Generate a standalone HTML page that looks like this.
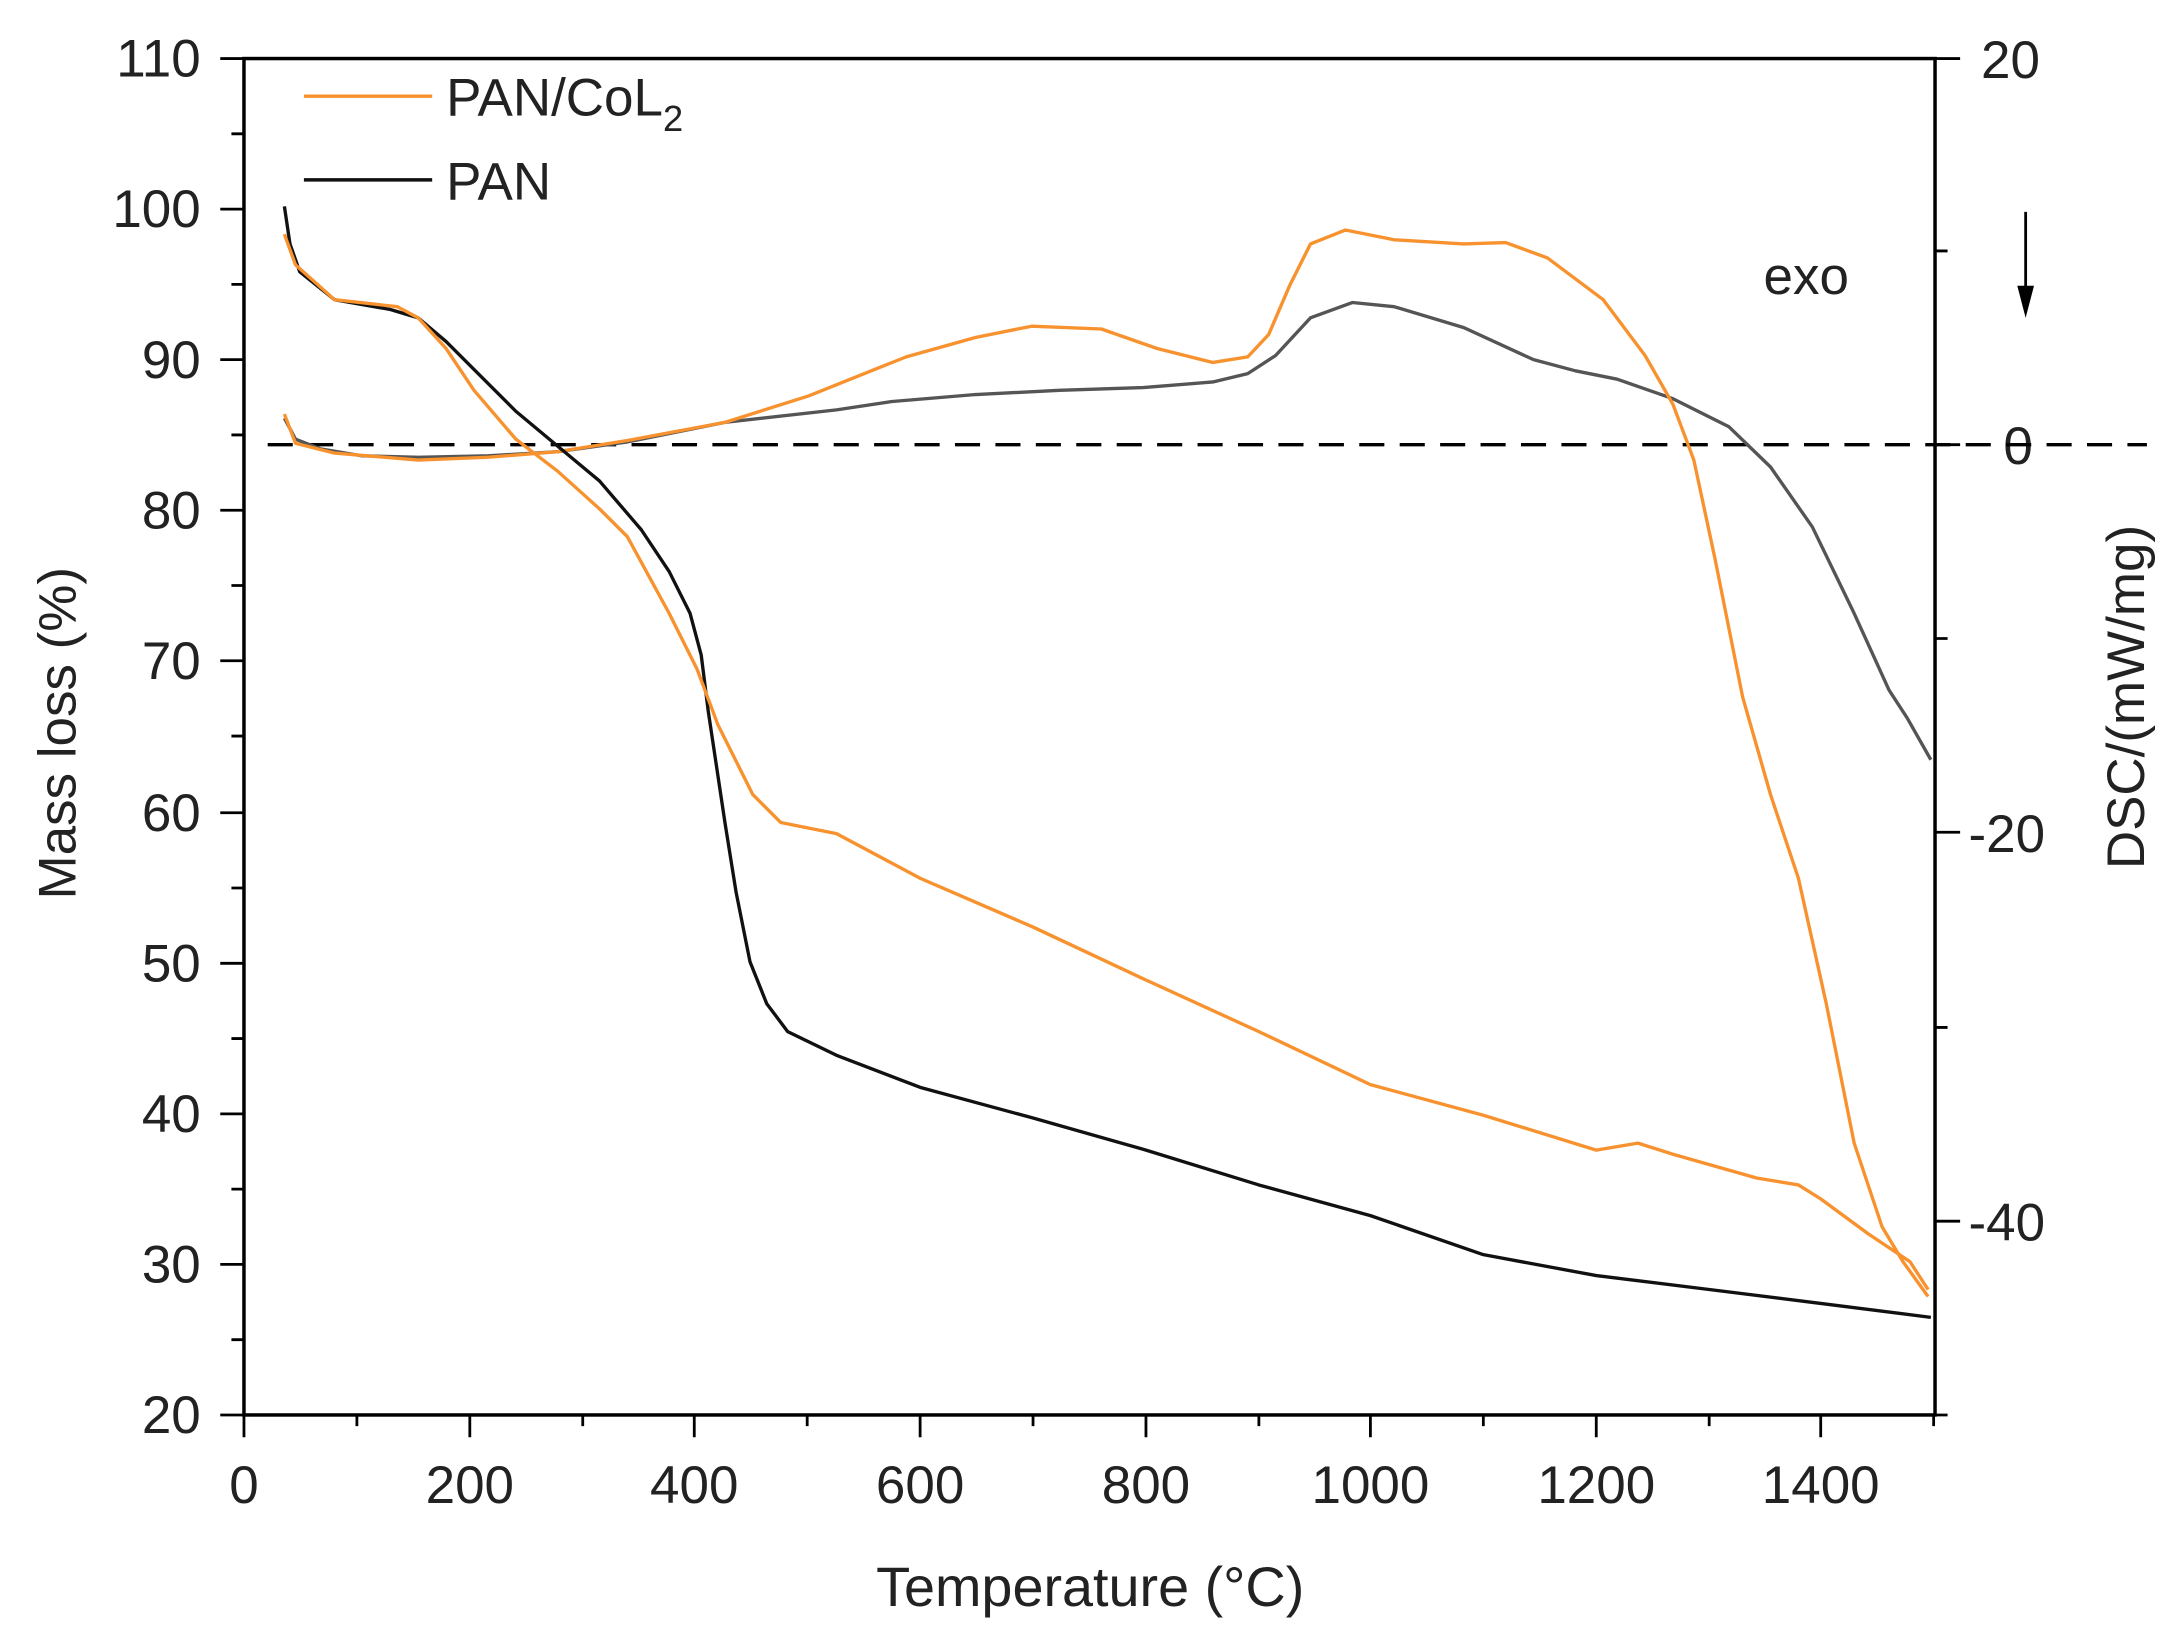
<!DOCTYPE html>
<html><head><meta charset="utf-8"><style>html,body{margin:0;padding:0;background:#fff}svg{display:block}</style></head>
<body>
<svg width="2179" height="1633" viewBox="0 0 1563 1171.4" preserveAspectRatio="none" xmlns="http://www.w3.org/2000/svg" font-family="Liberation Sans, sans-serif">
<g stroke="#000" stroke-width="2.5" fill="none">
<rect x="175" y="42" width="1213" height="973"/>
</g>
<g stroke="#000" stroke-width="2">
<path d="M158 42H175M158 150H175M158 258H175M158 366H175M158 474H175M158 583H175M158 691H175M158 799H175M158 907H175M158 1015H175"/>
<path d="M166 96H175M166 204H175M166 312H175M166 420H175M166 528H175M166 637H175M166 745H175M166 853H175M166 961H175"/>
<path d="M175 1015V1031M337 1015V1031M498 1015V1031M660 1015V1031M822 1015V1031M983 1015V1031M1145 1015V1031M1306 1015V1031"/>
<path d="M256 1015V1023M418 1015V1023M579 1015V1023M741 1015V1023M903 1015V1023M1064 1015V1023M1226 1015V1023M1387 1015V1023"/>
<path d="M1388 42H1406M1388 319H1406M1388 597H1406M1388 876H1406"/>
<path d="M1388 180H1397M1388 458H1397M1388 737H1397M1388 1015H1397"/>
</g>
<g font-size="38" fill="#222" text-anchor="end">
<text x="144" y="55">110</text><text x="144" y="163">100</text><text x="144" y="271">90</text><text x="144" y="379">80</text><text x="144" y="487">70</text><text x="144" y="596">60</text><text x="144" y="704">50</text><text x="144" y="812">40</text><text x="144" y="920">30</text><text x="144" y="1028">20</text>
</g>
<g font-size="38" fill="#222" text-anchor="middle">
<text x="175" y="1078">0</text><text x="337" y="1078">200</text><text x="498" y="1078">400</text><text x="660" y="1078">600</text><text x="822" y="1078">800</text><text x="983" y="1078">1000</text><text x="1145" y="1078">1200</text><text x="1306" y="1078">1400</text>
<text x="782" y="1152" font-size="40">Temperature (°C)</text>
</g>
<g font-size="38" fill="#222">
<text x="1421" y="56">20</text><text x="1437" y="333">0</text><text x="1412" y="611">-20</text><text x="1412" y="890">-40</text>
<text x="1265" y="211">exo</text>
</g>
<text transform="translate(54 526) rotate(-90)" font-size="38" fill="#222" text-anchor="middle">Mass loss (%)</text>
<text transform="translate(1538 500) rotate(-90)" font-size="38" fill="#222" text-anchor="middle">DSC/(mW/mg)</text>
<path d="M1453 152V215" stroke="#000" stroke-width="2"/><path d="M1447 205L1453 228L1459 205Z" fill="#000"/>
<line x1="192" y1="319" x2="1540" y2="319" stroke="#000" stroke-width="2.4" stroke-dasharray="18,11"/>
<line x1="218" y1="69" x2="310" y2="69" stroke="#f7922e" stroke-width="2.5"/>
<line x1="218" y1="129" x2="310" y2="129" stroke="#111" stroke-width="2.5"/>
<text x="320" y="83" font-size="38" fill="#222">PAN/CoL<tspan font-size="26" dy="11">2</tspan></text>
<text x="320" y="143" font-size="38" fill="#222">PAN</text>
<g fill="none" stroke-width="2.4" stroke-linejoin="round">
<polyline stroke="#555" points="204,300 212,315 230,322 260,327 300,328 350,327 400,324 450,317 520,303 600,294 640,288 700,283 760,280 820,278 870,274 895,268 915,255 940,228 970,217 1000,220 1050,235 1100,258 1130,266 1160,272 1200,286 1240,306 1270,335 1300,378 1330,440 1355,495 1368,515 1385,545"/>
<polyline stroke="#f7922e" points="204,297 212,318 240,325 300,330 350,328 400,324 450,316 520,303 580,284 650,256 700,242 740,234 790,236 830,250 870,260 895,256 910,240 925,205 940,175 965,165 1000,172 1050,175 1080,174 1110,185 1150,215 1180,255 1200,290 1215,330 1230,400 1250,500 1270,570 1290,630 1310,720 1330,820 1350,880 1365,905 1383,930"/>
<polyline stroke="#111" points="204,148 208,175 215,195 240,215 280,222 300,228 320,245 340,265 370,295 400,320 430,345 460,380 480,410 495,440 503,470 508,510 514,550 520,590 528,640 538,690 550,720 565,740 600,757 660,780 741,802 822,825 903,850 983,872 1064,900 1145,915 1226,925 1306,935 1385,945"/>
<polyline stroke="#f7922e" points="204,168 212,190 240,215 285,220 300,228 320,250 340,280 370,315 400,338 430,365 450,385 480,440 500,480 515,520 540,570 560,590 600,598 660,630 741,665 822,703 903,740 983,778 1064,800 1145,825 1175,820 1200,828 1260,845 1290,850 1306,860 1340,885 1370,905 1383,925"/>
</g>
</svg>
</body></html>
